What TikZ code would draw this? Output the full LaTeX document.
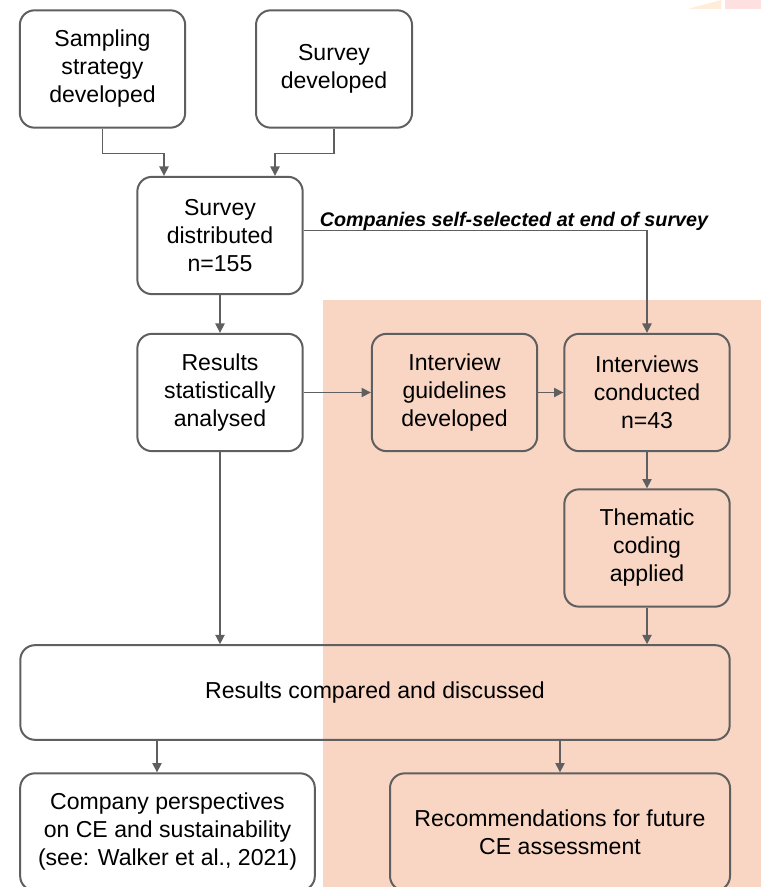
\documentclass[tikz,border=0pt]{standalone}
\usepackage{fontspec}
\setmainfont{Liberation Sans}
\usetikzlibrary{arrows.meta}
\definecolor{peach}{HTML}{F8D6C3}
\definecolor{linegray}{HTML}{5F5F5F}
\begin{document}
\begin{tikzpicture}[x=0.75pt, y=-0.75pt,
  stepbox/.style={draw=linegray, line width=1.5pt, rounded corners=11pt, align=center,
    minimum width=124pt, minimum height=88pt, inner sep=2pt,
    font=\fontsize{17.3}{21}\selectfont},
  arr/.style={draw=linegray, line width=1pt, -{Triangle[length=7pt,width=7pt]}},
  lbl/.style={font=\fontsize{14.8}{16}\selectfont\bfseries\itshape}]
\useasboundingbox (0,0) rectangle (761,887);
\clip (0,0) rectangle (761,887);
\fill[peach] (323,300) rectangle (761,887);
\fill[orange!15] (688,9) -- (721,0) -- (721,9) -- cycle;
\fill[red!12] (725,0) rectangle (761,9);
\node[stepbox] (samp) at (102.5,69) {Sampling\\strategy\\developed};
\node[stepbox, minimum width=117pt] (sdev) at (334,69) {Survey\\developed};
\node[stepbox] (sdist) at (220,235.5) {Survey\\distributed\\n=155};
\node[stepbox] (res) at (220,392.5) {Results\\statistically\\analysed};
\node[stepbox] (guide) at (454.5,392.5) {Interview\\guidelines\\developed};
\node[stepbox] (conduct) at (647,392.5) {Interviews\\conducted\\n=43};
\node[stepbox] (them) at (647,548) {Thematic\\coding\\applied};
\node[stepbox, minimum width=532pt, minimum height=71pt] (comp) at (375,692.5) {Results compared and discussed};
\node[stepbox, minimum width=221pt] (cop) at (167.5,832) {Company perspectives\\on CE and sustainability\\(see: Walker et al., 2021)};
\node[stepbox, minimum width=255pt] (rec) at (560,832) {Recommendations for future\\CE assessment};
\node[lbl] (selflbl) at (514,221) {Companies self-selected at end of survey};
\draw[arr] (samp.south) -- ++(0,25) -| (sdist.north -| 164,0);
\draw[arr] (sdev.south) -- ++(0,25) -| (sdist.north -| 275,0);
\draw[arr] (sdist.east) ++(0,-5) -| (conduct.north);
\draw[arr] (sdist.south) -- (res.north);
\draw[arr] (res.east) -- (guide.west);
\draw[arr] (guide.east) -- (conduct.west);
\draw[arr] (conduct.south) -- (them.north);
\draw[arr] (res.south) -- (res.south |- comp.north);
\draw[arr] (them.south) -- (them.south |- comp.north);
\draw[arr] (comp.south -| 157,0) -- (cop.north -| 157,0);
\draw[arr] (rec.north |- comp.south) -- (rec.north);
\end{tikzpicture}
\end{document}
